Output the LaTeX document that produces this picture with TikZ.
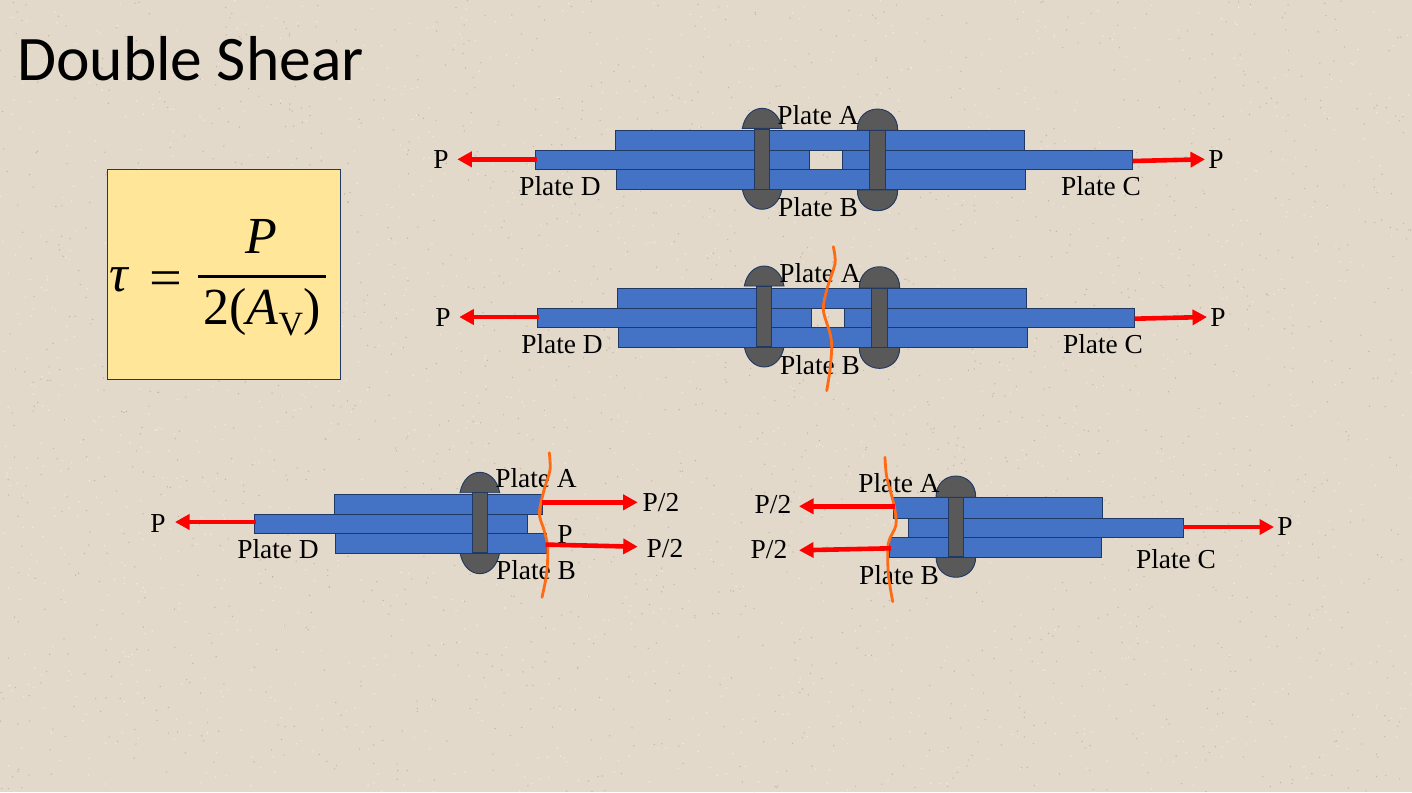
\documentclass[tikz,border=0pt]{standalone}
\usepackage{fontspec}
\setmainfont{Liberation Serif}
\newfontfamily\titlefont{Carlito}
\usetikzlibrary{arrows.meta}
\definecolor{bgc}{HTML}{E2D9CA}
\definecolor{specd}{HTML}{BFB4A3}
\definecolor{specl}{HTML}{F1EBDF}
\definecolor{plt}{HTML}{4472C4}
\definecolor{edge}{HTML}{1F3864}
\definecolor{riv}{HTML}{595959}
\definecolor{boxc}{HTML}{FFE699}
\definecolor{cutc}{HTML}{FF6A13}
\tikzset{
  plate/.style={fill=plt,draw=edge,line width=0.9pt},
  rivetbody/.style={fill=riv,draw=edge,line width=0.9pt},
  lbl/.style={font=\fontsize{27.4}{30}\selectfont,inner sep=0pt,text=black},
  force/.style={draw=red,line width=4.6pt,-{Triangle[length=14.5pt,width=15pt]}},
  cut/.style={draw=cutc,line width=2.8pt,line cap=round},
  eqn/.style={font=\fontsize{52}{58}\selectfont,inner sep=0pt,anchor=base,text=black}
}
\newcommand{\dome}[5]{% xl xr ybase ytop inset
  \pgfmathsetmacro\ctl{#3+(#4-#3)*1.333}
  \draw[rivetbody] (#1,#3) .. controls (#1+#5,\ctl) and (#2-#5,\ctl) .. (#2,#3) -- cycle;
}
\newcommand{\plt}[4]{\draw[plate] (#1,#2) rectangle (#3,#4);}
\newcommand{\rivetbar}[4]{\draw[rivetbody] (#1,#2) rectangle (#3,#4);}
\newcommand{\upperpair}{%
  \dome{742.3}{782}{128.3}{108.3}{5}
  \dome{742.3}{782}{189.3}{209.3}{5}
  \dome{857.3}{897.7}{130.3}{109}{0}
  \dome{857.3}{897.7}{189.8}{210.7}{0}
  \plt{615.3}{130.3}{1024.3}{150.3}
  \plt{616.3}{169.3}{1025.7}{189.3}
  \plt{535}{150.3}{809.3}{169.3}
  \plt{842.3}{150.3}{1132.7}{169.3}
  \rivetbar{754.3}{129}{769.7}{189}
  \rivetbar{869.3}{130.3}{885.7}{189.8}
}
\begin{document}
\begin{tikzpicture}[x=1pt,y=-1pt]
\useasboundingbox (0,0) rectangle (1412,792);
\fill[bgc] (0,0) rectangle (1412,792);
\pgfmathsetseed{11}
\foreach \i in {1,...,1800}{
  \pgfmathsetmacro\px{rnd*1412}\pgfmathsetmacro\py{rnd*792}
  \fill[specd] (\px,\py) circle (0.7pt);
}
\foreach \i in {1,...,1800}{
  \pgfmathsetmacro\px{rnd*1412}\pgfmathsetmacro\py{rnd*792}
  \fill[specl] (\px,\py) circle (0.8pt);
}
\node[anchor=base west,inner sep=0pt,font=\titlefont\fontsize{63.5}{70}\selectfont] (title) at (17,81) {Double Shear};

% formula
\draw[fill=boxc,draw=edge,line width=0.9pt] (107.3,169.3) rectangle (340.7,379.3);
\node[eqn,anchor=base west] (tau) at (109,291) {\itshape τ};
\node[eqn,anchor=base west,xscale=1.12] (eq) at (149.5,295) {=};
\node[eqn] (num) at (261.7,253) {\itshape P};
\coordinate (barl) at (198.3,276);
\coordinate (barr) at (326,276);
\draw[black,line width=3pt] (barl) -- (barr);
\node[eqn] (den) at (262,324) {2({\itshape A}\raisebox{-11pt}{\fontsize{34}{38}\selectfont V})};

% assembly 1
\upperpair
\node[lbl] (p1l) at (441,160) {P};
\node[lbl] (d1) at (560,186) {Plate D};
\node[lbl] (a1) at (818,115) {Plate A};
\node[lbl] (b1) at (818,207) {Plate B};
\node[lbl] (c1) at (1101,186) {Plate C};
\node[lbl] (p1r) at (1216,160) {P};
\coordinate (s1l) at (537,159.3); \coordinate (e1l) at (457.3,159.3);
\coordinate (s1r) at (1132.7,161); \coordinate (e1r) at (1205,159.3);
\draw[force] (s1l) -- (e1l);
\draw[force] (s1r) -- (e1r);

% assembly 2
\begin{scope}[shift={(2,157.7)}]
\upperpair
\node[lbl] (d2) at (560,186) {Plate D};
\node[lbl] (a2) at (818,115) {Plate A};
\node[lbl] (b2) at (818,207) {Plate B};
\node[lbl] (c2) at (1101,186) {Plate C};
\node[lbl] (p2l) at (441,160) {P};
\node[lbl] (p2r) at (1216,160) {P};
\coordinate (s2l) at (537,159.3); \coordinate (e2l) at (457.3,159.3);
\coordinate (s2r) at (1132.7,161); \coordinate (e2r) at (1205,159.3);
\draw[force] (s2l) -- (e2l);
\draw[force] (s2r) -- (e2r);
\end{scope}
\draw[cut] plot[smooth] coordinates {(833.3,246.7)(835,263.3)(826.7,290)(823.3,310)(830,333.3)(831.7,346.7)(830,370)(826.7,390.7)};

% assembly 3
\dome{460}{499.7}{492.7}{472.3}{5}
\dome{460}{499.7}{552.7}{573.7}{5}
\plt{334}{494.3}{542.7}{514.3}
\plt{335}{533.3}{546.7}{553.3}
\plt{254}{514.3}{527.3}{533.3}
\rivetbar{472.3}{492.7}{487.7}{552.7}
\node[lbl] (p3l) at (158,524) {P};
\node[lbl] (d3) at (278,549) {Plate D};
\node[lbl] (a3) at (536,478) {Plate A};
\node[lbl] (b3) at (536,570) {Plate B};
\node[lbl] (p3m) at (565,535) {P};
\node[lbl] (p3a) at (661,503) {P/2};
\node[lbl] (p3b) at (665,549) {P/2};
\coordinate (s3l) at (256,522); \coordinate (e3l) at (175,522);
\coordinate (s3a) at (542,502.3); \coordinate (e3a) at (637.7,502.3);
\coordinate (s3b) at (545.7,544.6); \coordinate (e3b) at (637.7,546.7);
\draw[cut] plot[smooth] coordinates {(549.3,452.7)(550,470)(544,490)(539.3,513.3)(544,530)(547.7,546.7)(546.7,573.3)(542,597.3)};
\draw[force] (s3l) -- (e3l);
\draw[force] (s3a) -- (e3a);
\draw[force] (s3b) -- (e3b);

% assembly 4
\dome{936}{975.7}{497.3}{476}{0}
\dome{936}{975.7}{556.7}{577.3}{0}
\plt{893.3}{497.3}{1102}{518.3}
\plt{889}{537.3}{1101}{557.3}
\plt{908.3}{518.3}{1183}{537.3}
\rivetbar{948.3}{497.3}{963.7}{556.7}
\node[lbl] (a4) at (899,483) {Plate A};
\node[lbl] (b4) at (899,575) {Plate B};
\node[lbl] (c4) at (1176,559) {Plate C};
\node[lbl] (p4r) at (1285,527) {P};
\node[lbl] (p4a) at (773,505) {P/2};
\node[lbl] (p4b) at (769,550) {P/2};
\coordinate (s4r) at (1183,527); \coordinate (e4r) at (1274,527);
\coordinate (s4a) at (895,506.3); \coordinate (e4a) at (799,506.3);
\coordinate (s4b) at (891,548.3); \coordinate (e4b) at (799,550.3);
\draw[cut] plot[smooth] coordinates {(885,457.3)(886.7,476.7)(894,505)(896,525)(888.3,543.3)(888.3,573.3)(892.7,601.7)};
\draw[force] (s4r) -- (e4r);
\draw[force] (s4a) -- (e4a);
\draw[force] (s4b) -- (e4b);
\end{tikzpicture}
\end{document}
